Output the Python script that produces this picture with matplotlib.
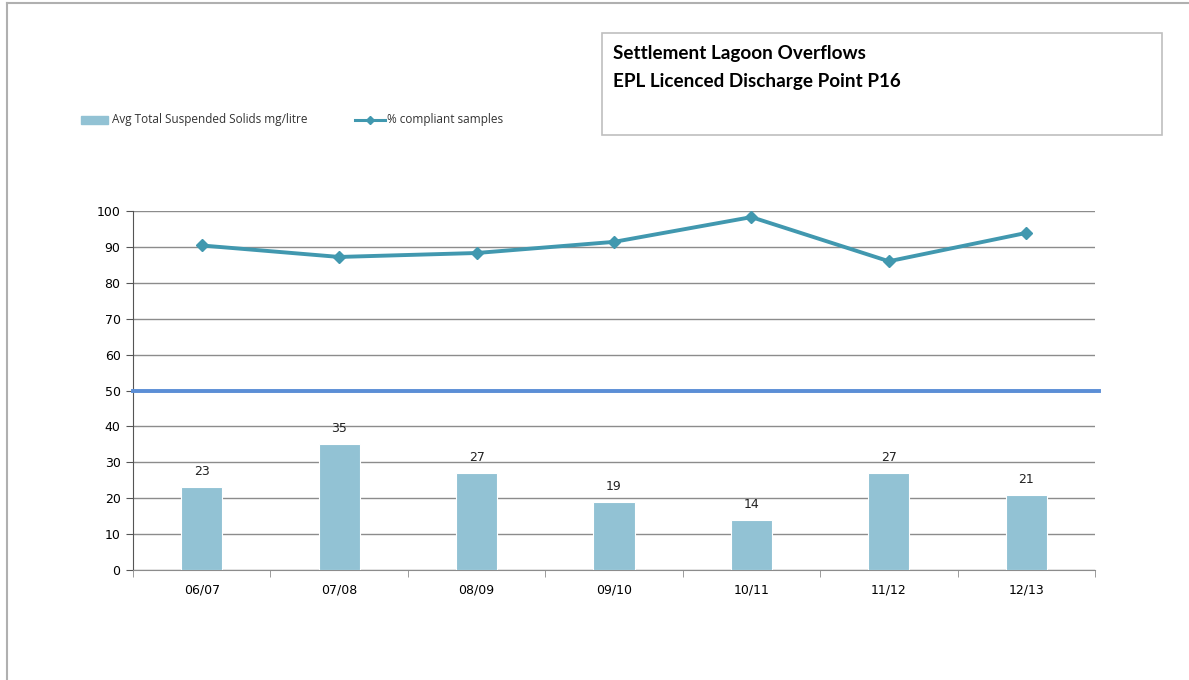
import numpy as np
import matplotlib
matplotlib.use('Agg')
import matplotlib.pyplot as plt
from matplotlib.patches import Rectangle
from matplotlib.lines import Line2D


years = ['06/07', '07/08', '08/09', '09/10', '10/11', '11/12', '12/13']
avg_tss = [23, 35, 27, 19, 14, 27, 21]
pct_compliant = [90.4, 87.2, 88.3, 91.4, 98.3, 86.0, 93.9]
limit_value = 50

bar_color = '#92C2D4'
line_color = '#4198AF'
limit_color = '#5B8ED6'
grid_color = '#8C8C8C'


def make_plot():
    fig = plt.figure(figsize=(11.89, 6.8), dpi=100)

    # outer chart border (only top/left visible in the reference)
    fig.add_artist(Line2D([7/1189, 1.0], [1-3/680, 1-3/680], color='#B0B0B0', lw=1.5))
    fig.add_artist(Line2D([7/1189, 7/1189], [0, 1-3/680], color='#B0B0B0', lw=1.5))

    ax = fig.add_axes([133/1189, 110/680, (1095-133)/1189, (570-211)/680])
    x = np.arange(len(years))

    ax.bar(x, avg_tss, width=0.3, color=bar_color, edgecolor='white', linewidth=0.8, zorder=3)
    for xi, v in zip(x, avg_tss):
        ax.text(xi, v + 2.5, str(v), ha='center', va='bottom', fontsize=9, color='#222222')

    ax.plot(x, pct_compliant, color=line_color, lw=2.8, marker='D', markersize=6, zorder=4)
    ax.axhline(limit_value, color=limit_color, lw=2.8, zorder=3, xmax=1.004, clip_on=False)

    ax.set_xlim(-0.5, len(years) - 0.5)
    ax.set_ylim(0, 100)
    ax.set_yticks(range(0, 101, 10))
    ax.yaxis.grid(True, color=grid_color, lw=1)
    ax.set_axisbelow(True)
    ax.set_xticks(x)
    ax.set_xticklabels(years)
    ax.set_xticks(np.arange(-0.5, len(years), 1), minor=True)
    ax.tick_params(axis='x', which='major', length=0, pad=10, labelsize=9)
    ax.tick_params(axis='x', which='minor', length=5, color=grid_color)
    ax.tick_params(axis='y', length=5, labelsize=9, color='#555555', pad=4)
    for s in ['top', 'right']:
        ax.spines[s].set_visible(False)
    ax.spines['left'].set_color('#555555')
    ax.spines['bottom'].set_color(grid_color)

    # legend
    ly = 1 - 120/680
    fig.add_artist(Rectangle((81/1189, 1-124/680), 27/1189, 8/680, color=bar_color))
    fig.text(112/1189, ly, 'Avg Total Suspended Solids mg/litre', fontsize=8.5,
             family='Open Sans', va='center', color='#333333')
    fig.add_artist(Line2D([355/1189, 370/1189, 385/1189], [ly, ly, ly], color=line_color,
                          lw=2.2, marker='D', markersize=4, markevery=[1]))
    fig.text(387/1189, ly, '% compliant samples', fontsize=8.5,
             family='Open Sans', va='center', color='#333333')

    # title box
    fig.add_artist(Rectangle((602/1189, 1-135/680), 560/1189, 102/680, fill=False,
                             edgecolor='#BFBFBF', lw=1.2))
    fig.text(613/1189, 1-53/680, 'Settlement Lagoon Overflows', fontsize=13.6,
             fontweight='bold', family='Lato', va='center', color='black')
    fig.text(613/1189, 1-82/680, 'EPL Licenced Discharge Point P16', fontsize=13.6,
             fontweight='bold', family='Lato', va='center', color='black')

    fig.savefig('out.png', dpi=100)


def main():
    make_plot()

if __name__ == '__main__':
    main()
